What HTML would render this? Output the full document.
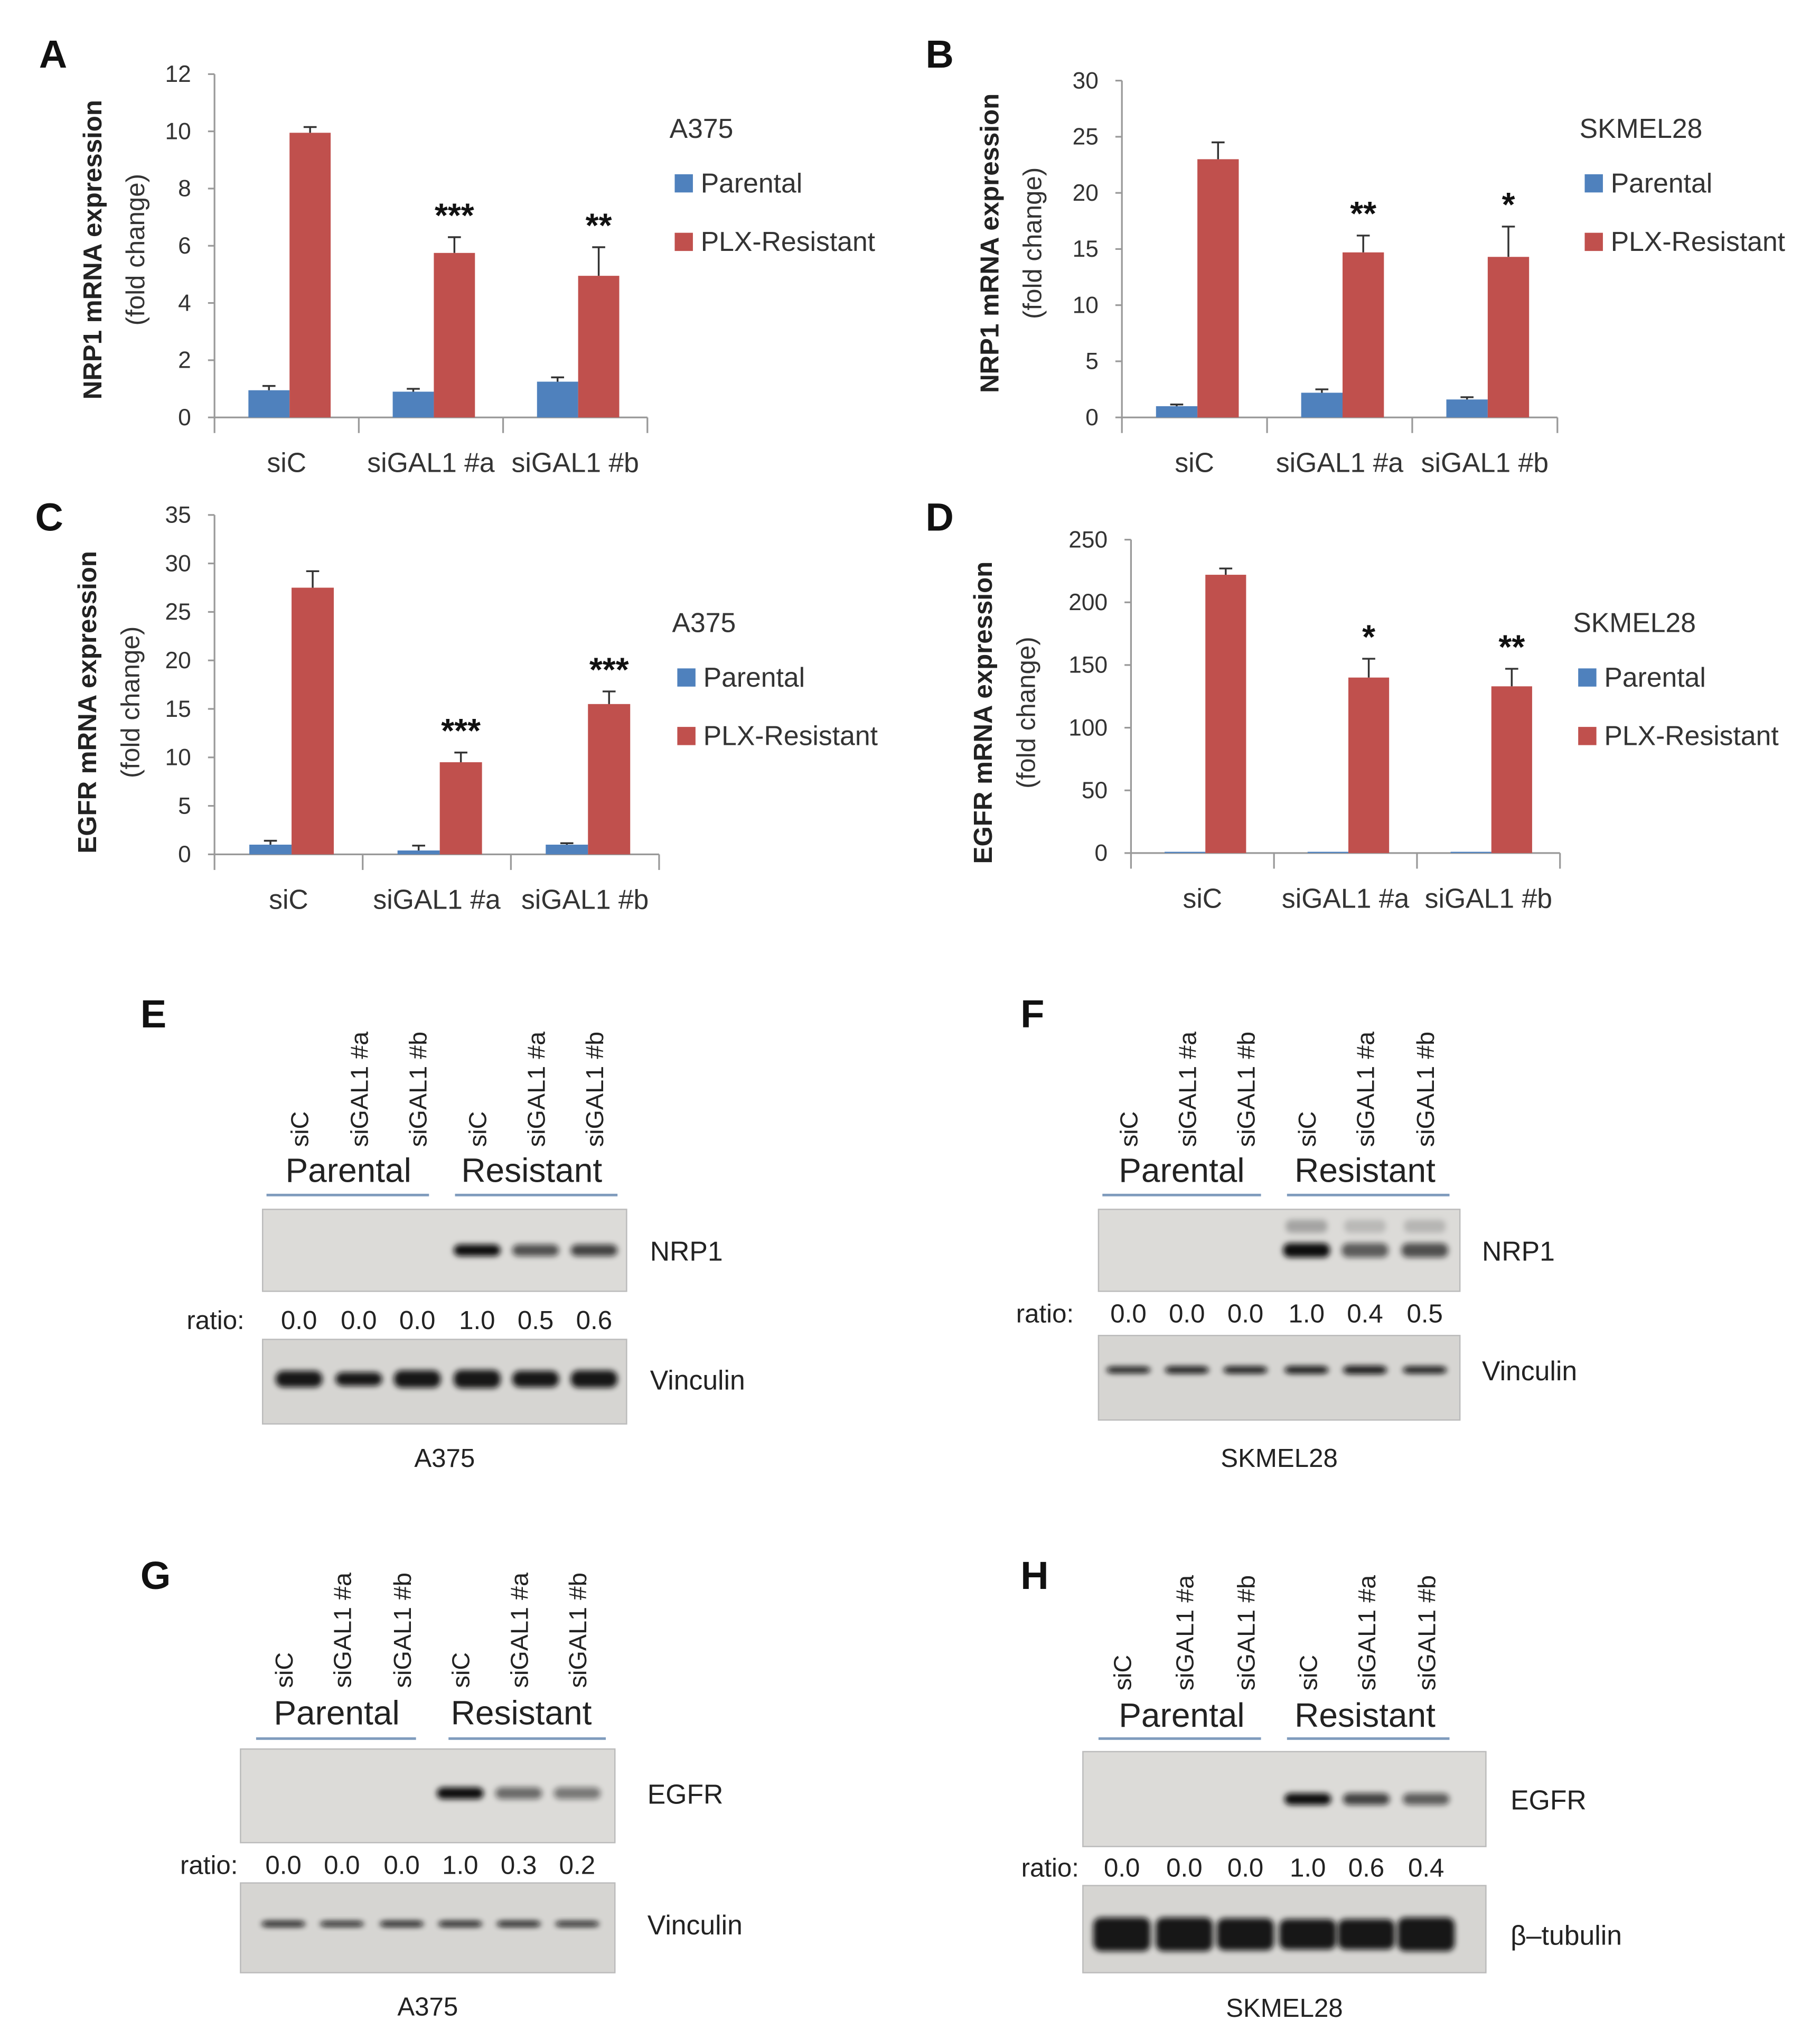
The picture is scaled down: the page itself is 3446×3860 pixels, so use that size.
<!DOCTYPE html>
<html><head><meta charset="utf-8">
<style>
html,body{margin:0;padding:0;background:#fff;}
svg{display:block;}
text{font-family:"Liberation Sans",sans-serif;}
</style></head>
<body>
<svg id="fig" xmlns="http://www.w3.org/2000/svg" width="3446" height="3860" viewBox="0 0 1400 1568" preserveAspectRatio="none">
<defs>
<filter id="blur" x="-30%" y="-100%" width="160%" height="300%"><feGaussianBlur stdDeviation="2.2"/></filter>
</defs>
<rect x="0" y="0" width="1400" height="1568" fill="#fff"/>
</svg>
<script>
// ---------- chart data ----------
const categories = ["siC", "siGAL1 #a", "siGAL1 #b"];
const seriesNames = ["Parental", "PLX-Resistant"];
const aParental = [0.95, 0.9, 1.25];
const aParentalErr = [0.15, 0.1, 0.15];
const aResistant = [9.95, 5.75, 4.95];
const aResistantErr = [0.2, 0.55, 1.0];
const aStars = ["", "***", "**"];
const aTicks = [0, 2, 4, 6, 8, 10, 12];

const bParental = [1.0, 2.2, 1.6];
const bParentalErr = [0.15, 0.3, 0.2];
const bResistant = [23.0, 14.7, 14.3];
const bResistantErr = [1.5, 1.5, 2.7];
const bStars = ["", "**", "*"];
const bTicks = [0, 5, 10, 15, 20, 25, 30];

const cParental = [1.0, 0.4, 1.0];
const cParentalErr = [0.4, 0.5, 0.15];
const cResistant = [27.5, 9.5, 15.5];
const cResistantErr = [1.7, 1.0, 1.3];
const cStars = ["", "***", "***"];
const cTicks = [0, 5, 10, 15, 20, 25, 30, 35];

const dParental = [1.0, 1.0, 1.0];
const dParentalErr = [0, 0, 0];
const dResistant = [222, 140, 133];
const dResistantErr = [5, 15, 14];
const dStars = ["", "*", "**"];
const dTicks = [0, 50, 100, 150, 200, 250];

// blot ratios
const eRatios = ["0.0", "0.0", "0.0", "1.0", "0.5", "0.6"];
const fRatios = ["0.0", "0.0", "0.0", "1.0", "0.4", "0.5"];
const gRatios = ["0.0", "0.0", "0.0", "1.0", "0.3", "0.2"];
const hRatios = ["0.0", "0.0", "0.0", "1.0", "0.6", "0.4"];
const laneLabels = ["siC", "siGAL1 #a", "siGAL1 #b", "siC", "siGAL1 #a", "siGAL1 #b"];
const eLoading = [0.9, 0.75, 0.95, 1.0, 0.9, 0.95];
const fLoading = [0.55, 0.6, 0.6, 0.65, 0.7, 0.6];
const gLoading = [0.55, 0.5, 0.55, 0.55, 0.55, 0.5];
const hLoading = [1.0, 1.0, 0.95, 0.9, 0.9, 1.0];

const NS = "http://www.w3.org/2000/svg";
const svg = document.getElementById("fig");
const BLUE = "#4F81BD", RED = "#C0504D";

function el(tag, attrs, parent) {
  const e = document.createElementNS(NS, tag);
  for (const k in attrs) e.setAttribute(k, attrs[k]);
  (parent || svg).appendChild(e);
  return e;
}
function txt(x, y, s, size, opts, parent) {
  opts = opts || {};
  const t = el("text", {x: x, y: y, "font-size": size, fill: opts.fill || "#222",
    "text-anchor": opts.anchor || "start", "font-weight": opts.weight || "normal"}, parent);
  if (opts.rot) t.setAttribute("transform", "rotate(" + opts.rot + " " + x + " " + y + ")");
  t.textContent = s;
  return t;
}

function drawChart(cfg) {
  const g = el("g", {});
  
  
  const max = cfg.ticks[cfg.ticks.length - 1];
  const y = v => cfg.y0 - (v / max) * (cfg.y0 - cfg.yTop);
  const gw = (cfg.x1 - cfg.x0) / categories.length;
  // panel letter
  const L = txt(cfg.letterX, cfg.letterY, cfg.letter, 30, {weight: "bold", fill: "#111"}, g);
  
  
  // y axis
  const ya = el("line", {x1: cfg.x0, y1: cfg.yTop, x2: cfg.x0, y2: cfg.y0, stroke: "#999", "stroke-width": 1.3}, g);
  
  
  cfg.ticks.forEach(t => {
    el("line", {x1: cfg.x0 - 5, y1: y(t), x2: cfg.x0, y2: y(t), stroke: "#999", "stroke-width": 1.3}, g);
    const tl = txt(cfg.x0 - 18, y(t) + 6, String(t), 18, {anchor: "end", fill: "#333"}, g);
    
    
  });
  // x axis
  const xa = el("line", {x1: cfg.x0, y1: cfg.y0, x2: cfg.x1, y2: cfg.y0, stroke: "#999", "stroke-width": 1.3}, g);
  
  
  for (let i = 0; i <= categories.length; i++) {
    el("line", {x1: cfg.x0 + i * gw, y1: cfg.y0, x2: cfg.x0 + i * gw, y2: cfg.y0 + 12, stroke: "#999", "stroke-width": 1.3}, g);
  }
  const bw = gw * 0.285;
  categories.forEach((c, i) => {
    const gx = cfg.x0 + i * gw;
    const bx = gx + gw * 0.235;
    const vals = [[cfg.par[i], cfg.parErr[i], BLUE, "bar-parental-" + i], [cfg.res[i], cfg.resErr[i], RED, "bar-resistant-" + i]];
    vals.forEach((v, j) => {
      const x = bx + j * bw;
      const r = el("rect", {x: x, y: y(v[0]), width: bw, height: cfg.y0 - y(v[0]), fill: v[2]}, g);
      
      
      if (v[1] > 0) {
        const cx = x + bw / 2;
        const eb = el("path", {d: "M" + cx + " " + y(v[0]) + "V" + y(v[0] + v[1]) + "M" + (cx - 5) + " " + y(v[0] + v[1]) + "H" + (cx + 5), stroke: "#333", "stroke-width": 1.4, fill: "none"}, g);
        
        
      }
    });
    if (cfg.stars[i]) {
      const top = y(cfg.res[i] + cfg.resErr[i]);
      const st = txt(bx + bw * 1.5, top - 8, cfg.stars[i], 26, {anchor: "middle", weight: "bold", fill: "#111"}, g);
      
      
    }
    const cl = txt(gx + gw / 2, cfg.y0 + 42, c, 21, {anchor: "middle", fill: "#333"}, g);
    
    
  });
  // y title
  const yt = txt(cfg.titleX, cfg.titleY, cfg.title, 20, {anchor: "middle", weight: "bold", fill: "#222", rot: -90}, g);
  
  
  const yt2 = txt(cfg.titleX + 33, cfg.titleY, "(fold change)", 20, {anchor: "middle", fill: "#333", rot: -90}, g);
  
  
  // legend
  const lg = el("g", {}, g);
  
  
  txt(cfg.legX, cfg.legY, cfg.cell, 21, {fill: "#333"}, lg);
  [BLUE, RED].forEach((col, j) => {
    const ly = cfg.legY + 42 + j * 45;
    el("rect", {x: cfg.legX + 4, y: ly - 14, width: 14, height: 14, fill: col}, lg);
    const lt = txt(cfg.legX + 24, ly, seriesNames[j], 21, {fill: "#333"}, lg);
    
    
  });
}

drawChart({name: "chart-a", letter: "A", letterX: 30, letterY: 52, x0: 165, x1: 498, y0: 321, yTop: 57, ticks: aTicks,
  par: aParental, parErr: aParentalErr, res: aResistant, resErr: aResistantErr, stars: aStars,
  title: "NRP1 mRNA expression", titleX: 78, titleY: 192, legX: 515, legY: 106, cell: "A375"});
drawChart({name: "chart-b", letter: "B", letterX: 712, letterY: 52, x0: 863, x1: 1198, y0: 321, yTop: 62, ticks: bTicks,
  par: bParental, parErr: bParentalErr, res: bResistant, resErr: bResistantErr, stars: bStars,
  title: "NRP1 mRNA expression", titleX: 768, titleY: 187, legX: 1215, legY: 106, cell: "SKMEL28"});
drawChart({name: "chart-c", letter: "C", letterX: 27, letterY: 408, x0: 165, x1: 507, y0: 657, yTop: 396, ticks: cTicks,
  par: cParental, parErr: cParentalErr, res: cResistant, resErr: cResistantErr, stars: cStars,
  title: "EGFR mRNA expression", titleX: 74, titleY: 540, legX: 517, legY: 486, cell: "A375"});
drawChart({name: "chart-d", letter: "D", letterX: 712, letterY: 408, x0: 870, x1: 1200, y0: 656, yTop: 415, ticks: dTicks,
  par: dParental, parErr: dParentalErr, res: dResistant, resErr: dResistantErr, stars: dStars,
  title: "EGFR mRNA expression", titleX: 763, titleY: 548, legX: 1210, legY: 486, cell: "SKMEL28"});

// ---------- blots ----------
function drawBlot(cfg) {
  const g = el("g", {});
  
  
  const L = txt(cfg.letterX, cfg.letterY, cfg.letter, 30, {weight: "bold", fill: "#111"}, g);
  
  
  cfg.lanes.forEach((lx, i) => {
    const t = txt(lx + 7, cfg.laneBottom, laneLabels[i], 19, {fill: "#222", rot: -90}, g);
    
    
  });
  const p = txt(cfg.parC, cfg.groupY, "Parental", 26, {anchor: "middle", fill: "#222"}, g);
  
  
  const r = txt(cfg.resC, cfg.groupY, "Resistant", 26, {anchor: "middle", fill: "#222"}, g);
  
  
  cfg.lines.forEach(ln => {
    const u = el("line", {x1: ln[0], y1: cfg.lineY, x2: ln[1], y2: cfg.lineY, stroke: "#7f9bbd", "stroke-width": 2}, g);
    
    
  });
  // top blot
  const b1 = el("rect", {x: cfg.bx0, y: cfg.t0, width: cfg.bx1 - cfg.bx0, height: cfg.t1 - cfg.t0, fill: "#dcdbd8", stroke: "#bbb", "stroke-width": 1}, g);
  
  
  const bandY = (cfg.t0 + cfg.t1) / 2 + cfg.bandOff;
  cfg.lanes.forEach((lx, i) => {
    const v = parseFloat(cfg.ratios[i]);
    if (v > 0) {
      const band = el("rect", {x: lx - 18, y: bandY - (cfg.topH / 2), width: 36, height: cfg.topH, rx: 5, fill: "#111", opacity: Math.min(1, 0.35 + 0.65 * v), filter: "url(#blur)"}, g);
      
      
      if (cfg.smear) el("rect", {x: lx - 16, y: cfg.t0 + 8, width: 32, height: 10, rx: 4, fill: "#777", opacity: 0.35 * v + 0.2, filter: "url(#blur)"}, g);
    }
  });
  const tl = txt(cfg.labX, bandY + 8, cfg.target, 21, {fill: "#222"}, g);
  
  
  // ratios
  const rl = txt(cfg.ratioLX, cfg.ratioY, "ratio:", 20, {anchor: "end", fill: "#222"}, g);
  
  
  cfg.lanes.forEach((lx, i) => {
    const rv = txt(lx, cfg.ratioY, cfg.ratios[i], 20, {anchor: "middle", fill: "#222"}, g);
    
    
  });
  // loading control
  const b2 = el("rect", {x: cfg.bx0, y: cfg.l0, width: cfg.bx1 - cfg.bx0, height: cfg.l1 - cfg.l0, fill: "#d6d5d2", stroke: "#bbb", "stroke-width": 1}, g);
  
  
  const lY = (cfg.l0 + cfg.l1) / 2 + cfg.lOff;
  cfg.lanes.forEach((lx, i) => {
    const h = cfg.loadH * cfg.loading[i];
    const band = el("rect", {x: lx - cfg.loadW / 2, y: lY - h / 2, width: cfg.loadW, height: h, rx: 6, fill: "#0c0c0c", opacity: 0.95, filter: "url(#blur)"}, g);
    
    
  });
  const ll = txt(cfg.labX, lY + 8, cfg.loadName, 21, {fill: "#222"}, g);
  
  
  const cl = txt((cfg.bx0 + cfg.bx1) / 2, cfg.cellY, cfg.cell, 20, {anchor: "middle", fill: "#222"}, g);
  
  
}

drawBlot({name: "blot-e", letter: "E", letterX: 108, letterY: 790, lanes: [230, 276, 321, 367, 412, 457], laneBottom: 882,
  parC: 268, resC: 409, groupY: 909, lines: [[205, 330], [350, 475]], lineY: 919,
  bx0: 202, bx1: 482, t0: 930, t1: 993, bandOff: 0, topH: 9, smear: false, target: "NRP1", labX: 500,
  ratios: eRatios, ratioLX: 188, ratioY: 1022, l0: 1030, l1: 1095, lOff: -2, loadH: 14, loadW: 36, loading: eLoading,
  loadName: "Vinculin", cellY: 1128, cell: "A375"});
drawBlot({name: "blot-f", letter: "F", letterX: 785, letterY: 790, lanes: [868, 913, 958, 1005, 1050, 1096], laneBottom: 882,
  parC: 909, resC: 1050, groupY: 909, lines: [[848, 970], [990, 1115]], lineY: 919,
  bx0: 845, bx1: 1123, t0: 930, t1: 993, bandOff: 0, topH: 11, smear: true, target: "NRP1", labX: 1140,
  ratios: fRatios, ratioLX: 826, ratioY: 1017, l0: 1027, l1: 1092, lOff: -6, loadH: 9, loadW: 34, loading: fLoading,
  loadName: "Vinculin", cellY: 1128, cell: "SKMEL28"});
drawBlot({name: "blot-g", letter: "G", letterX: 108, letterY: 1222, lanes: [218, 263, 309, 354, 399, 444], laneBottom: 1298,
  parC: 259, resC: 401, groupY: 1326, lines: [[197, 320], [345, 466]], lineY: 1337,
  bx0: 185, bx1: 473, t0: 1345, t1: 1417, bandOff: -2, topH: 9, smear: false, target: "EGFR", labX: 498,
  ratios: gRatios, ratioLX: 183, ratioY: 1441, l0: 1448, l1: 1517, lOff: -3, loadH: 8, loadW: 34, loading: gLoading,
  loadName: "Vinculin", cellY: 1550, cell: "A375"});
drawBlot({name: "blot-h", letter: "H", letterX: 785, letterY: 1222, lanes: [863, 911, 958, 1006, 1051, 1097], laneBottom: 1300,
  parC: 909, resC: 1050, groupY: 1328, lines: [[845, 970], [990, 1115]], lineY: 1337,
  bx0: 833, bx1: 1143, t0: 1347, t1: 1420, bandOff: 0, topH: 9, smear: false, target: "EGFR", labX: 1162,
  ratios: hRatios, ratioLX: 830, ratioY: 1443, l0: 1450, l1: 1517, lOff: 4, loadH: 26, loadW: 44, loading: hLoading,
  loadName: "β–tubulin", cellY: 1551, cell: "SKMEL28"});
</script>
</body></html>
